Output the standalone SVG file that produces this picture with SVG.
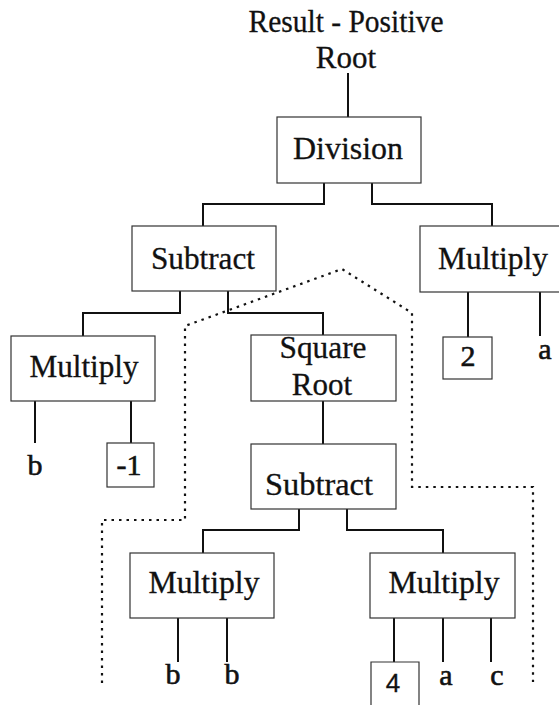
<svg xmlns="http://www.w3.org/2000/svg" width="559" height="705" viewBox="0 0 559 705">
  <style>
    .bg { fill: #ffffff; }
    .box { fill: #ffffff; stroke: #333333; stroke-width: 1.2; }
    .wire { fill: none; stroke: #111111; stroke-width: 2; }
    .dots { fill: none; stroke: #111111; stroke-width: 2.2; stroke-dasharray: 2.5 5; }
    .lbl { font-family: "Liberation Serif", "Times New Roman", serif; font-size: 31px; fill: #111111; stroke: #111111; stroke-width: 0.3; text-anchor: middle; }
    .leaf { font-family: "Liberation Serif", "Times New Roman", serif; font-size: 30px; fill: #111111; stroke: #111111; stroke-width: 0.6; text-anchor: middle; }
    .num { font-family: "Liberation Sans", Arial, sans-serif; font-size: 26px; fill: #111111; stroke: #111111; stroke-width: 0.3; text-anchor: middle; }
  </style>
  <rect class="bg" x="0" y="0" width="559" height="705"/>

  <!-- connectors -->
  <g id="connectors">
    <path class="wire" d="M348 73 V117"/>
    <path class="wire" d="M324 183 V204 H203 V226"/>
    <path class="wire" d="M372 183 V204 H492 V226"/>
    <path class="wire" d="M180 291 V313 H83 V336"/>
    <path class="wire" d="M228 291 V313 H323 V335"/>
    <path class="wire" d="M35 401 V443"/>
    <path class="wire" d="M131 401 V443"/>
    <path class="wire" d="M468 292 V337"/>
    <path class="wire" d="M540 292 V336"/>
    <path class="wire" d="M323 401 V444"/>
    <path class="wire" d="M299 509 V530 H203 V553"/>
    <path class="wire" d="M347 509 V530 H443 V553"/>
    <path class="wire" d="M178 618 V662"/>
    <path class="wire" d="M227 618 V662"/>
    <path class="wire" d="M394 618 V662"/>
    <path class="wire" d="M443 618 V662"/>
    <path class="wire" d="M491 618 V662"/>
    <!-- dotted outline around the square-root discriminant subtree -->
    <path class="dots" d="M102 683 V520 H185 V326 L342 269 L412 313 V487 H533 V682"/>
  </g>

  <!-- title -->
  <g id="result">
    <text class="lbl" x="346" y="32" textLength="195" lengthAdjust="spacingAndGlyphs">Result - Positive</text>
    <text class="lbl" x="346" y="68">Root</text>
  </g>

  <g id="division">
    <rect class="box" x="277" y="117" width="144" height="66"/>
    <text class="lbl" x="348" y="159" textLength="110" lengthAdjust="spacingAndGlyphs">Division</text>
  </g>

  <g id="subtract-top">
    <rect class="box" x="132" y="226" width="144" height="65"/>
    <text class="lbl" x="203" y="269" textLength="104" lengthAdjust="spacingAndGlyphs">Subtract</text>
  </g>

  <g id="multiply-denominator">
    <rect class="box" x="420" y="226" width="150" height="66"/>
    <text class="lbl" x="493" y="269" textLength="110" lengthAdjust="spacingAndGlyphs">Multiply</text>
  </g>

  <g id="multiply-neg-b">
    <rect class="box" x="11" y="336" width="144" height="65"/>
    <text class="lbl" x="84" y="377" textLength="109" lengthAdjust="spacingAndGlyphs">Multiply</text>
  </g>

  <g id="leaf-b1"><text class="leaf" x="35" y="475">b</text></g>
  <g id="const-neg1">
    <rect class="box" x="107" y="443" width="47" height="44"/>
    <text class="leaf" x="129" y="475">-1</text>
  </g>

  <g id="const-2">
    <rect class="box" x="443" y="337" width="49" height="42"/>
    <text class="leaf" x="468" y="366">2</text>
  </g>
  <g id="leaf-a1"><text class="leaf" x="545" y="359">a</text></g>

  <g id="square-root">
    <rect class="box" x="251" y="335" width="145" height="66"/>
    <text class="lbl" x="323" y="358" textLength="87" lengthAdjust="spacingAndGlyphs">Square</text>
    <text class="lbl" x="322" y="395">Root</text>
  </g>

  <g id="subtract-discriminant">
    <rect class="box" x="251" y="444" width="145" height="65"/>
    <text class="lbl" x="319" y="495" textLength="108" lengthAdjust="spacingAndGlyphs">Subtract</text>
  </g>

  <g id="multiply-b-squared">
    <rect class="box" x="130" y="553" width="144" height="65"/>
    <text class="lbl" x="204" y="593" textLength="111" lengthAdjust="spacingAndGlyphs">Multiply</text>
  </g>
  <g id="leaf-b2"><text class="leaf" x="173" y="684">b</text></g>
  <g id="leaf-b3"><text class="leaf" x="232" y="684">b</text></g>

  <g id="multiply-4ac">
    <rect class="box" x="370" y="553" width="145" height="65"/>
    <text class="lbl" x="444" y="593" textLength="111" lengthAdjust="spacingAndGlyphs">Multiply</text>
  </g>
  <g id="const-4">
    <path class="box" d="M371 710 V662 H419 V710"/>
    <text class="num" x="393" y="692">4</text>
  </g>
  <g id="leaf-a2"><text class="leaf" x="446" y="685">a</text></g>
  <g id="leaf-c"><text class="leaf" x="497" y="685">c</text></g>
</svg>
